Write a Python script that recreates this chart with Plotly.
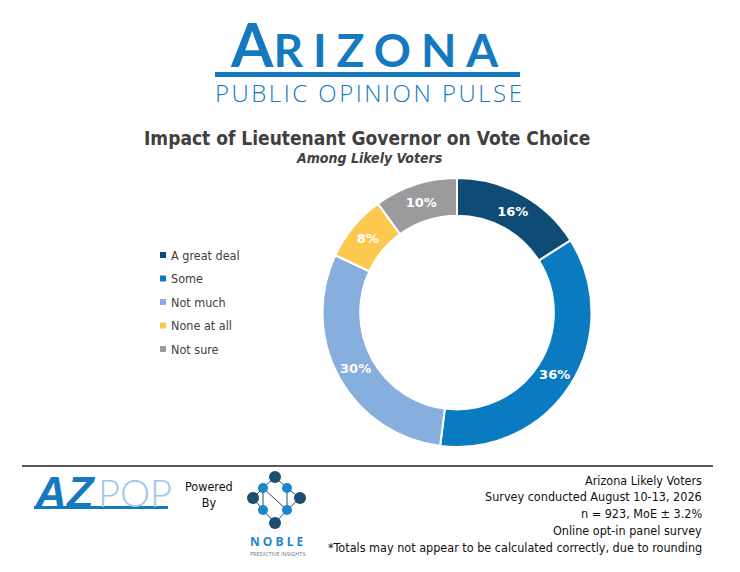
import plotly.graph_objects as go

# ---- data ----
labels = ["A great deal", "Some", "Not much", "None at all", "Not sure"]
values = [16, 36, 30, 8, 10]
colors = ["#0F4C75", "#0A7BC1", "#86AFDE", "#FCC94E", "#9B9A9D"]

title = "Impact of Lieutenant Governor on Vote Choice"
subtitle = "Among Likely Voters"
notes = ["Arizona Likely Voters",
         "Survey conducted August 10-13, 2026",
         "n = 923, MoE ± 3.2%",
         "Online opt-in panel survey",
         "*Totals may not appear to be calculated correctly, due to rounding"]

W, H = 740, 572
OFF = 8  # page body margin
BLUE = "#1479BF"
TXT = "DejaVu Sans Condensed, Tahoma, Verdana, sans-serif"

def px(x):
    return (x - OFF) / W

def py(y):
    return 1 - (y - OFF) / H

def note(x, y, text, font, xanchor="center"):
    return dict(x=px(x), y=py(y), xref="paper", yref="paper", showarrow=False,
                xanchor=xanchor, yanchor="middle", text=text, font=font)

fig = go.Figure()
fig.add_trace(go.Pie(
    labels=labels, values=values, sort=False, direction="clockwise", rotation=0,
    hole=0.72, marker=dict(colors=colors, line=dict(color="white", width=2)),
    texttemplate="%{value}%", textposition="inside", insidetextorientation="horizontal",
    textfont=dict(color="white", size=13, family="DejaVu Sans", weight="bold"),
    domain=dict(x=[px(322), px(592)], y=[py(447), py(178)]),
    showlegend=False, hoverinfo="label+value",
))

shapes = []
annotations = []

# header logo
annotations.append(note(369, 44,
    "<span style='font-size:61px'>A</span><span style='letter-spacing:10px'>RIZONA</span>",
    dict(family="Lato, Open Sans", size=46, color=BLUE, weight="bold")))
shapes.append(dict(type="rect", xref="paper", yref="paper", x0=px(215), x1=px(520),
                   y0=py(77), y1=py(72), fillcolor=BLUE, line=dict(width=0)))
annotations.append(note(369, 93, "<span style='letter-spacing:2.5px'>PUBLIC OPINION PULSE</span>",
                        dict(family="Open Sans", size=24, color=BLUE, weight=300)))

# titles
annotations.append(note(367, 138, "<b>" + title + "</b>",
                        dict(family="DejaVu Sans Condensed, DejaVu Sans", size=19, color="#404040")))
annotations.append(note(369, 158, "<b><i>" + subtitle + "</i></b>",
                        dict(family="DejaVu Sans Condensed, DejaVu Sans", size=14, color="#404040")))

# legend (manual, to match spacing)
for i, (lab, col) in enumerate(zip(labels, colors)):
    yy = 255 + i * 23.5
    shapes.append(dict(type="rect", xref="paper", yref="paper",
                       x0=px(160), x1=px(166), y0=py(yy + 3), y1=py(yy - 3),
                       fillcolor=col, line=dict(width=0)))
    annotations.append(note(169, yy, lab, dict(family=TXT, size=12.5, color="#404040"),
                            xanchor="left"))

# footer
shapes.append(dict(type="line", xref="paper", yref="paper", x0=px(22), x1=px(713),
                   y0=py(466), y1=py(466), line=dict(color="#222222", width=1.5)))
for i, line in enumerate(notes):
    annotations.append(note(704, 480 + i * 16.8, line,
                            dict(family=TXT, size=12.5, color="#111111"), xanchor="right"))

# AZPOP logo
annotations.append(note(32, 492, "<b><i>AZ</i></b>",
                        dict(family="Liberation Sans", size=44, color=BLUE), xanchor="left"))
annotations.append(note(96, 492, "POP",
                        dict(family="Lato", size=38, color="#9CC8EA", weight=300), xanchor="left"))
shapes.append(dict(type="rect", xref="paper", yref="paper", x0=px(34), x1=px(168),
                   y0=py(509), y1=py(506), fillcolor=BLUE, line=dict(width=0)))
annotations.append(note(209, 494, "Powered<br>By", dict(family=TXT, size=12.5, color="#111111")))

# Noble logo
NAVY = "#1D4E6E"
LB = "#1C86C8"
nodes_dark = [(275, 477), (253, 498), (300, 498), (275, 523)]
nodes_light = [(263, 488), (287, 488), (263, 510), (287, 510)]
links = [((275, 477), (263, 488)), ((275, 477), (287, 488)), ((253, 498), (263, 488)),
         ((253, 498), (263, 510)), ((300, 498), (287, 488)), ((300, 498), (287, 510)),
         ((275, 523), (263, 510)), ((275, 523), (287, 510)), ((263, 510), (263, 488)),
         ((263, 488), (287, 510)), ((287, 510), (287, 488))]
for (a, b) in links:
    shapes.append(dict(type="line", xref="paper", yref="paper", x0=px(a[0]), y0=py(a[1]),
                       x1=px(b[0]), y1=py(b[1]), line=dict(color=NAVY, width=1)))
for (cx, cy) in nodes_dark:
    shapes.append(dict(type="circle", xref="paper", yref="paper", x0=px(cx - 6), x1=px(cx + 6),
                       y0=py(cy + 6), y1=py(cy - 6), fillcolor=NAVY, line=dict(width=0)))
for (cx, cy) in nodes_light:
    shapes.append(dict(type="circle", xref="paper", yref="paper", x0=px(cx - 5), x1=px(cx + 5),
                       y0=py(cy + 5), y1=py(cy - 5), fillcolor=LB, line=dict(width=0)))
annotations.append(note(277, 541, "<b>N O B L E</b>", dict(family="Open Sans", size=12, color=LB)))
annotations.append(note(277, 554, "PREDICTIVE INSIGHTS",
                        dict(family="Open Sans", size=5.5, color="#777777")))

fig.update_layout(
    width=W, height=H, margin=dict(l=0, r=0, t=0, b=0),
    paper_bgcolor="white", plot_bgcolor="white",
    shapes=shapes, annotations=annotations, showlegend=False,
)

fig.write_html("out.html")
